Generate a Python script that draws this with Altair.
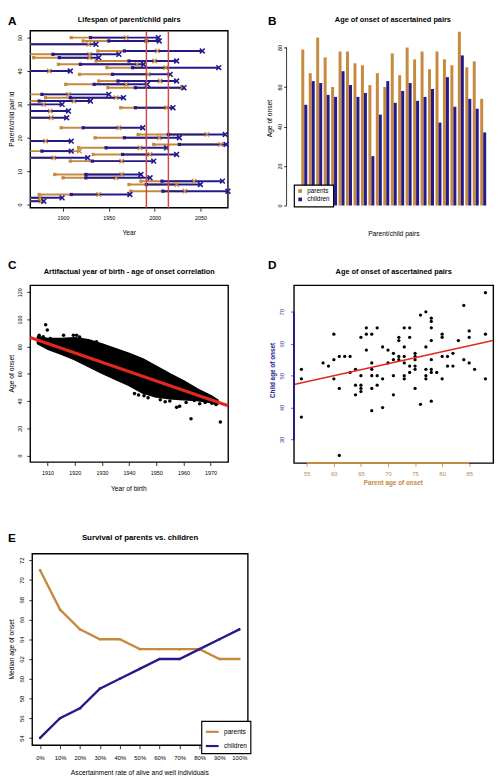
import altair as alt
import pandas as pd

FONT = "Liberation Sans"
ORANGE = "#C58A3F"
NAVY = "#241A8C"
RED_A = "#CF4A3F"
RED = "#E0281E"
XPATH = "M-1,-1L1,1M-1,1L1,-1"
W, H = 496, 775   # one canvas holding the five panels

# ---------------- Panel A: lifespans ----------------
a_pair = [50, 49, 48, 46, 45, 44, 43, 42, 41, 40, 39, 37, 36, 35, 33, 32, 31, 30, 29, 28,
          26, 23, 21, 20, 19, 18, 17, 16, 15, 14, 13, 9, 8, 7, 6, 4, 3, 2, 1]
a_parent_birth = [1909, 1922, 1850, 1938, 1850, 1868, 1936, 1895, 1948, 1850, 1918, 1939, 1903, 1949, 1850, 1881, 1850, 1850, 1963, 1850,
                  1850, 1898, 1982, 1935, 1850, 1999, 1917, 1850, 1933, 1850, 1908, 1891, 1900, 1985, 1972, 1974, 1874, 1850, 1850]
a_parent_end = [1969, 1991, 1928, 2003, 1929, 1929, 2000, 1981, 2012, 1885, 1993, 2006, 1969, 2030, 1906, 1958, 1912, 1879, 2013, 1886,
                1887, 1961, 2057, 2005, 1881, 2072, 1984, 1918, 1995, 1890, 1964, 1964, 1958, 2043, 2024, 2033, 1939, 1875, 1876]
a_child_birth = [1930, 1950, 1850, 1967, 1889, 1896, 1972, 1919, 1976, 1850, 1954, 1960, 1934, 1979, 1877, 1908, 1874, 1850, 1979, 1850,
                 1850, 1922, 2015, 1967, 1850, 2027, 1947, 1877, 1965, 1850, 1932, 1925, 1925, 2008, 1991, 2009, 1909, 1850, 1850]
a_child_end = [2004, 2005, 1936, 2052, 1961, 1939, 2024, 1988, 2070, 1908, 2017, 2024, 1992, 2032, 1950, 1966, 1930, 1899, 2020, 1906,
               1904, 1987, 2077, 2027, 1909, 2078, 2013, 1909, 2024, 1927, 1999, 1985, 1995, 2074, 2050, 2085, 1973, 1899, 1879]
a_window = [1991, 2015]

# ---------------- Panel B: bars ----------------
b_pair = list(range(1, 26))
b_parents = [79, 67, 85, 75, 60, 78, 78, 72, 71, 61, 67, 60, 77, 66, 80, 74, 78, 69, 78, 74, 71, 88, 70, 73, 54]
b_children = [51, 63, 62, 56, 55, 68, 61, 55, 57, 25, 46, 63, 52, 58, 62, 53, 55, 59, 42, 65, 50, 76, 54, 49, 37]
series_names = ["parents", "children"]

# ---------------- Panel C: dense cloud ----------------
c_band_year = [1906.5, 1910, 1915, 1920, 1925, 1930, 1935, 1940, 1945, 1950, 1955, 1960, 1965, 1970, 1972.5]
c_band_upper = [87, 85.5, 85.5, 86, 84.5, 81.5, 78, 74.5, 70.5, 65, 59.5, 54.3, 48.5, 43.5, 40.5]
c_band_lower = [82.5, 78.8, 75, 71, 66, 61, 56.5, 52, 46.5, 43.5, 42.3, 41.5, 41, 39.5, 38]
c_out_year = [1906.9, 1908.4, 1909.3, 1909.9, 1911.0, 1915.9, 1919.5, 1920.7, 1921.8, 1924.9, 1928.0, 1942.0, 1943.5, 1945.5,
              1947.0, 1951.5, 1953.3, 1955.0, 1957.5, 1958.6, 1961.0, 1962.8, 1964.0, 1966.0, 1968.0, 1970.5, 1973.6, 1972.0]
c_out_age = [88.4, 87.2, 96.1, 92.3, 86.0, 88.4, 88.4, 88.4, 87.0, 84.1, 83.6, 45.5, 44.5, 44.0,
             42.5, 41.0, 39.5, 40.0, 35.4, 36.2, 39.0, 27.0, 40.5, 38.0, 39.0, 38.5, 24.6, 37.5]
c_fit_year = [1903.6, 1976.5]
c_fit_age = [86.7, 36.6]

# ---------------- Panel D: scatter ----------------
d_parent = [54, 54, 54, 58, 59, 60, 60, 60, 61, 61, 61, 62, 63, 63, 64, 64, 64, 65, 65, 65, 65, 65,
            66, 66, 66, 67, 67, 67, 67, 67, 67, 68, 68, 68, 69, 69, 69, 70, 70, 71, 71, 71, 71,
            72, 72, 72, 72, 73, 73, 73, 73, 73, 73, 74, 74, 74, 74, 75, 75, 75, 75, 75, 75,
            76, 76, 77, 77, 77, 77, 77, 78, 78, 78, 78, 78, 78, 78, 78, 79, 80, 80, 80, 80,
            81, 81, 82, 82, 83, 84, 84, 85, 85, 85, 86, 88, 88, 88]
d_child = [52, 49, 37, 54, 53, 55, 63, 49, 56, 46, 25, 56, 56, 51, 52, 47, 44, 62, 50, 47, 46, 45,
           65, 63, 58, 63, 54, 52, 50, 46, 39, 65, 50, 47, 59, 49, 40, 58, 54, 57, 55, 50, 44,
           62, 61, 56, 55, 65, 59, 56, 54, 50, 49, 65, 62, 53, 51, 57, 56, 55, 53, 52, 46,
           69, 41, 70, 59, 52, 50, 49, 68, 67, 65, 61, 55, 52, 51, 42, 51, 63, 62, 56, 49,
           56, 53, 57, 53, 61, 72, 55, 64, 62, 54, 52, 76, 63, 49]
d_xticks = [55, 60, 65, 70, 75, 80, 85]
d_yticks = [30, 40, 50, 60, 70]

# ---------------- Panel E: medians ----------------
e_pct = [0, 10, 20, 30, 40, 50, 60, 70, 80, 90, 100]
e_parents = [71, 67, 65, 64, 64, 63, 63, 63, 63, 62, 62]
e_children = [54, 56, 57, 59, 60, 61, 62, 62, 63, 64, 65]


def axis(values, orient, at, color="black", label_size=5.5, label_pad=4.5, tick_size=3.5,
         fmt=None, expr=None):
    # 'at' = pixel position of the axis line inside the shared canvas
    off = -at if orient == "left" else -(H - at)
    kw = dict(values=values, title=None, orient=orient, offset=off, grid=False, domain=False,
              tickSize=tick_size, tickWidth=0.8, tickColor=color, labelColor=color,
              labelFont=FONT, labelFontSize=label_size, labelPadding=label_pad,
              labelOverlap=False, labelFlush=False)
    if orient == "left":
        kw.update(labelAngle=270, labelAlign="center", labelBaseline="bottom")
    if fmt:
        kw["format"] = fmt
    if expr:
        kw["labelExpr"] = expr
    return alt.Axis(**kw)


def txt(text, x, y, size, weight="bold", align="left", baseline="alphabetic", color="black", angle=0):
    return alt.Chart(pd.DataFrame({"t": [text]})).mark_text(
        font=FONT, fontSize=size, fontWeight=weight, align=align, baseline=baseline,
        color=color, angle=angle
    ).encode(text="t:N", x=alt.value(x), y=alt.value(y))


def box(x0, y0, x1, y1):
    return alt.Chart(pd.DataFrame({"b": [0]})).mark_rect(
        filled=False, stroke="black", strokeWidth=1.4
    ).encode(x=alt.value(x0), x2=alt.value(x1), y=alt.value(y0), y2=alt.value(y1))


def atitle(text, x, y, vertical=False, color="black", weight="normal", size=6.8):
    return txt(text, x, y, size, weight=weight, align="center", baseline="middle",
               color=color, angle=270 if vertical else 0)


# ================= A =================
AX0, AY0, AX1, AY1 = 22.7, 15, 224, 195.3
dfA = pd.DataFrame({"pair": a_pair, "pb": a_parent_birth, "pe": a_parent_end,
                    "cb": a_child_birth, "ce": a_child_end})
sxA = alt.Scale(domain=[1864.3, 2080], range=[AX0, AX1], nice=False, zero=False, clamp=True)
syA = alt.Scale(domain=[-0.97, 52.06], range=[AY1, AY0], nice=False, zero=False)
axA_x = axis([1900, 1950, 2000, 2050], "bottom", AY1, fmt="d", label_pad=4.1)
axA_y = axis([0, 10, 20, 30, 40, 50], "left", AX0, label_pad=4.5)


def XA(f):
    return alt.X(f, type="quantitative", scale=sxA, axis=axA_x)


def YA(f):
    return alt.Y(f, type="quantitative", scale=syA, axis=axA_y)


baseA = alt.Chart(dfA)
panelA = alt.layer(
    baseA.mark_rule(color=ORANGE, strokeWidth=2).encode(x=XA("pb"), x2="pe", y=YA("pair")),
    baseA.transform_filter(alt.datum.pb >= 1864.3).mark_point(
        shape="square", filled=True, size=11, color=ORANGE, opacity=1).encode(x=XA("pb"), y=YA("pair")),
    baseA.mark_rule(color=NAVY, strokeWidth=2).encode(x=XA("cb"), x2="ce", y=YA("pair")),
    baseA.mark_point(shape=XPATH, filled=False, size=20, strokeWidth=1.3, color=ORANGE, opacity=1).encode(
        x=XA("pe"), y=YA("pair")),
    baseA.transform_filter(alt.datum.cb >= 1864.3).mark_point(
        shape="square", filled=True, size=11, color=NAVY, opacity=1).encode(x=XA("cb"), y=YA("pair")),
    baseA.mark_point(shape=XPATH, filled=False, size=24, strokeWidth=1.6, color=NAVY, opacity=1).encode(
        x=XA("ce"), y=YA("pair")),
    alt.Chart(pd.DataFrame({"yr": a_window})).mark_rule(color=RED_A, strokeWidth=1.5).encode(
        x=XA("yr"), y=alt.value(AY0), y2=alt.value(AY1)),
)

# ================= B =================
BAX = 283.7
BY0, BY1 = 16, 193
dfB = pd.DataFrame({"pair": b_pair * 2,
                    "series": [series_names[0]] * len(b_pair) + [series_names[1]] * len(b_pair),
                    "age": b_parents + b_children})
syB = alt.Scale(domain=[0, 88], range=[BY1, BY0], nice=False, zero=True)
axB_y = axis([0, 20, 40, 60, 80], "left", BAX, tick_size=3, label_pad=0.8)
colorB = alt.Color("series:N", scale=alt.Scale(domain=series_names, range=[ORANGE, NAVY]),
                   legend=alt.Legend(title=None, orient="none", legendX=291.3, legendY=172,
                                     symbolType="square", symbolSize=14, labelFontSize=6.5,
                                     labelFont=FONT, padding=3, rowPadding=1.5,
                                     strokeColor="black", fillColor="white", labelOffset=4,
                                     symbolStrokeWidth=0))
panelB = alt.layer(
    alt.Chart(dfB).mark_bar(strokeWidth=0).encode(
        x=alt.X("pair:O", scale=alt.Scale(range=[298.7, 487], paddingInner=0.2, paddingOuter=0), axis=None),
        xOffset=alt.XOffset("series:N", sort=series_names, scale=alt.Scale(paddingInner=0, paddingOuter=0)),
        y=alt.Y("age:Q", scale=syB, axis=axB_y),
        color=colorB,
    ),
    alt.Chart(pd.DataFrame({"lo": [0], "hi": [80]})).mark_rule(strokeWidth=0.8, color="black").encode(
        x=alt.value(BAX), y=alt.Y("lo:Q", scale=syB, axis=axB_y), y2="hi:Q"),
)

# ================= C =================
CX0, CY0, CX1, CY1 = 22.7, 274.3, 224.3, 454.3
sxC = alt.Scale(domain=[1903.64, 1976.5], range=[CX0, CX1], nice=False, zero=False)
syC = alt.Scale(domain=[-4.8, 125.05], range=[CY1, CY0], nice=False, zero=False)
axC_x = axis([1910, 1920, 1930, 1940, 1950, 1960, 1970], "bottom", CY1, fmt="d", label_pad=5.1)
axC_y = axis([0, 20, 40, 60, 80, 100, 120], "left", CX0, label_pad=4.2)
dfC_band = pd.DataFrame({"year": c_band_year, "upper": c_band_upper, "lower": c_band_lower})
dfC_out = pd.DataFrame({"year": c_out_year, "age": c_out_age})
dfC_fit = pd.DataFrame({"year": c_fit_year, "age": c_fit_age})
XC = alt.X("year:Q", scale=sxC, axis=axC_x)
panelC = alt.layer(
    alt.Chart(dfC_band).mark_area(color="black", stroke="black", strokeWidth=3, strokeJoin="round").encode(
        x=XC, y=alt.Y("upper:Q", scale=syC, axis=axC_y), y2="lower:Q"),
    alt.Chart(dfC_out).mark_circle(color="black", size=13, opacity=1).encode(
        x=XC, y=alt.Y("age:Q", scale=syC, axis=axC_y)),
    alt.Chart(dfC_fit).mark_line(color=RED, strokeWidth=3.2).encode(
        x=XC, y=alt.Y("age:Q", scale=syC, axis=axC_y)),
)

# ================= D =================
DX0, DY0, DX1, DY1 = 291.3, 274.3, 494.3, 455.3
sxD = alt.Scale(domain=[52.64, 89.46], range=[DX0, DX1], nice=False, zero=False)
syD = alt.Scale(domain=[22.6, 78.3], range=[DY1, DY0], nice=False, zero=False)
axD_x = axis(d_xticks, "bottom", DY1, color=ORANGE, label_size=6, label_pad=3.9)
axD_y = axis(d_yticks, "left", DX0, color="#3B3399", label_size=6, label_pad=5.9)
dfD = pd.DataFrame({"parent": d_parent, "child": d_child})
XD = alt.X("parent:Q", scale=sxD, axis=axD_x)
YD = alt.Y("child:Q", scale=syD, axis=axD_y)
panelD = alt.layer(
    alt.Chart(dfD).mark_circle(color="black", size=11, opacity=1).encode(x=XD, y=YD),
    alt.Chart(dfD).transform_regression("parent", "child", extent=[52.64, 89.4]).mark_line(
        color=RED, strokeWidth=1.5).encode(x=XD, y=YD),
    # coloured axis lines, drawn over the frame
    alt.Chart(pd.DataFrame({"lo": [min(d_xticks)], "hi": [max(d_xticks)]})).mark_rule(color=ORANGE, strokeWidth=2).encode(
        x=alt.X("lo:Q", scale=sxD, axis=axD_x), x2="hi:Q", y=alt.value(DY1)),
    alt.Chart(pd.DataFrame({"lo": [min(d_yticks)], "hi": [max(d_yticks)]})).mark_rule(color=NAVY, strokeWidth=2).encode(
        y=alt.Y("lo:Q", scale=syD, axis=axD_y), y2="hi:Q", x=alt.value(DX0)),
)

# ================= E =================
EX0, EY0, EX1, EY1 = 24.7, 547.7, 244.3, 742.7
dfE = pd.DataFrame({"pct": e_pct * 2,
                    "series": [series_names[0]] * len(e_pct) + [series_names[1]] * len(e_pct),
                    "median": e_parents + e_children})
sxE = alt.Scale(domain=[-3.94, 104.27], range=[EX0, EX1], nice=False, zero=False)
syE = alt.Scale(domain=[53.26, 72.66], range=[EY1, EY0], nice=False, zero=False)
axE_x = axis(e_pct, "bottom", EY1, label_size=6, label_pad=6.3, expr="datum.value + '%'")
axE_y = axis(list(range(54, 73, 2)), "left", EX0, label_size=6, label_pad=4.4)
panelE = alt.Chart(dfE).mark_line(strokeWidth=2.4, point=alt.OverlayMarkDef(size=7, filled=True)).encode(
    x=alt.X("pct:Q", scale=sxE, axis=axE_x),
    y=alt.Y("median:Q", scale=syE, axis=axE_y),
    color=alt.Color("series:N", sort=series_names,
                    scale=alt.Scale(domain=series_names, range=[ORANGE, NAVY]),
                    legend=alt.Legend(title=None, orient="none", legendX=197, legendY=718,
                                      symbolType="stroke", symbolSize=169, symbolStrokeWidth=2.2,
                                      labelFontSize=6.7, labelFont=FONT, padding=3, rowPadding=1.5,
                                      strokeColor="black", fillColor="white", labelOffset=4)),
)

# ================= frames and texts =================
frames = [box(AX0, AY0, AX1, AY1), box(CX0, CY0, CX1, CY1), box(DX0, DY0, DX1, DY1), box(EX0, EY0, EX1, EY1)]
texts = [
    txt("A", 0, 9.5, 12), txt("B", 264.7, 9.5, 12), txt("C", 0, 258, 12),
    txt("D", 264.7, 257.7, 12), txt("E", 0, 536, 12),
    txt("Lifespan of parent/child pairs", 123.4, 4.2, 7.5, align="center", baseline="middle"),
    txt("Age of onset of ascertained pairs", 392, 4.2, 7.5, align="center", baseline="middle"),
    txt("Artifactual year of birth - age of onset correlation", 123.5, 260.3, 7.5, align="center", baseline="middle"),
    txt("Age of onset of ascertained pairs", 392.8, 260.3, 7.5, align="center", baseline="middle"),
    txt("Survival of parents vs. children", 134.5, 532, 8, align="center", baseline="middle"),
    atitle("Year", 123.4, 221),
    atitle("Parent/child pair id", 4, 105, vertical=True),
    atitle("Parent/child pairs", 393, 221.7),
    atitle("Age of onset", 267, 104.5, vertical=True),
    atitle("Year of birth", 123, 481.3),
    atitle("Age of onset", 4, 364.3, vertical=True),
    atitle("Parent age of onset", 392.5, 475.3, color=ORANGE, weight="bold", size=6.5),
    atitle("Child age of onset", 269.7, 361, vertical=True, color=NAVY, weight="bold", size=6.5),
    atitle("Ascertainment rate of alive and well individuals", 134.3, 771),
    atitle("Median age of onset", 4, 645, vertical=True),
]

chart = alt.layer(*frames, panelA, panelB, panelC, panelD, panelE, *texts).resolve_scale(
    x="independent", y="independent", color="independent"
).resolve_axis(x="independent", y="independent").resolve_legend(color="independent").properties(
    width=W, height=H, padding=0
).configure_view(stroke=None).configure_legend(strokeWidth=1.2, cornerRadius=0)

chart.save("out.html", embed_options={"renderer": "svg", "actions": False})
